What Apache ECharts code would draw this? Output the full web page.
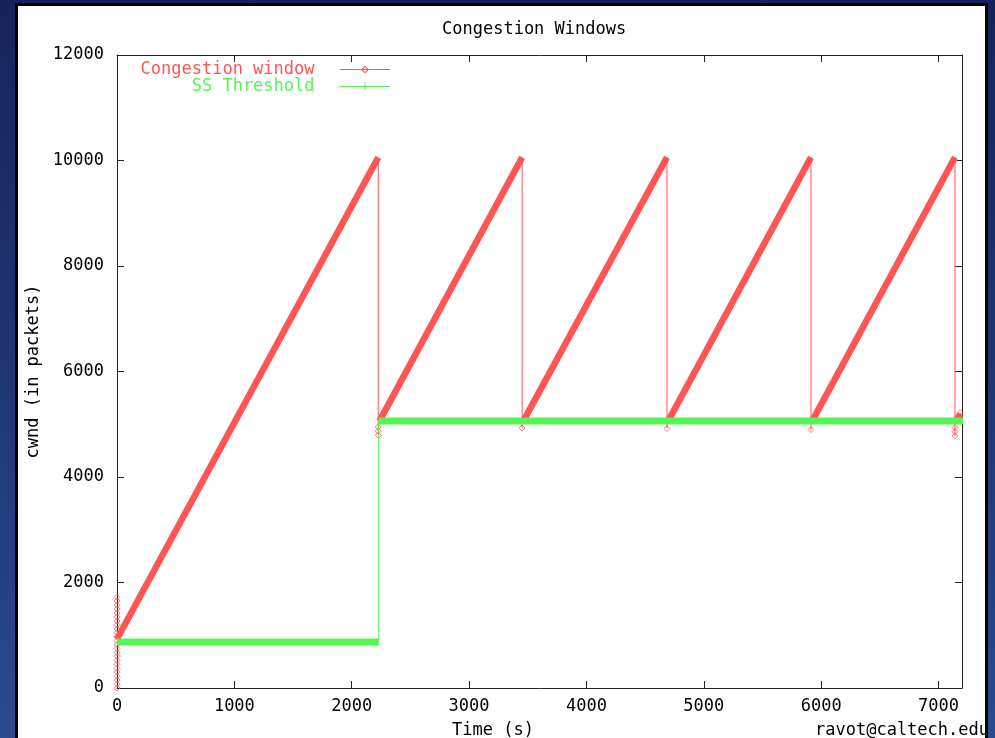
<!DOCTYPE html>
<html>
<head>
<meta charset="utf-8">
<script src="https://cdn.jsdelivr.net/npm/echarts@6/dist/echarts.min.js"></script>
<style>
  html, body { margin: 0; padding: 0; width: 995px; height: 738px; overflow: hidden; }
  body { background: linear-gradient(to bottom, #15235a 0%, #1f3470 45%, #2b4a90 100%); position: relative; }
  #box { position: absolute; left: 15px; top: 3px; width: 967px; height: 780px; border: 3px solid #000; background: #fff; overflow: hidden; }
  #chart { position: absolute; left: 0; top: 0; width: 967px; height: 732px; }
</style>
</head>
<body>
<div id="box"><div id="chart"></div></div>
<script>
// ---- data ----
const titleText = 'Congestion Windows';
const xName = 'Time (s)';
const yName = 'cwnd (in packets)';
const footer = 'ravot@caltech.edu';
const seriesNames = ['Congestion window', 'SS Threshold'];
const xMin = 0, xMax = 7200, xStep = 1000;
const yMin = 0, yMax = 12000, yStep = 2000;

// congestion window: linear growth phases (time s, cwnd packets)
const cwndRamps = [
  [[0, 930], [2226, 10060]],
  [[2236, 5060], [3452, 10060]],
  [[3462, 5060], [4686, 10060]],
  [[4696, 5060], [5913, 10060]],
  [[5923, 5060], [7140, 10060]],
  [[7150, 5060], [7185, 5200]]
];
// congestion window: loss events (sharp drops)
const cwndDrops = [
  [[2226, 10060], [2226, 4790]],
  [[3452, 10060], [3452, 4930]],
  [[4686, 10060], [4686, 4920]],
  [[5913, 10060], [5913, 4900]],
  [[7140, 10060], [7140, 4780]]
];
// congestion window: isolated samples
const cwndSamples = [
  [0, 0], [0, 70], [0, 150], [0, 220], [0, 300], [0, 370], [0, 450], [0, 520],
  [0, 600], [0, 670], [0, 750], [0, 820], [0, 900], [0, 970], [0, 1050], [0, 1120],
  [0, 1200], [0, 1270], [0, 1350], [0, 1420], [0, 1500], [0, 1570], [0, 1650], [0, 1720],
  [2226, 4790], [2226, 4870], [2226, 4950],
  [3452, 4930], [4686, 4920], [5913, 4900],
  [7140, 4780], [7140, 4860], [7140, 4940],
  [7183, 5160], [7185, 5220]
];
// slow start threshold: plateaus and step
const ssPlateaus = [
  [[0, 870], [2230, 870]],
  [[2230, 5060], [7210, 5060]]
];
const ssSteps = [
  [[2230, 870], [2230, 5060]]
];

// ---- styling ----
const RED = '#ff5555';
const GREEN = '#55f555';
const FONT = 'DejaVu Sans Mono';
const FS = 17;
const AXIS = '#222';

const chart = echarts.init(document.getElementById('chart'), null, { renderer: 'canvas' });

const series = [];
cwndRamps.forEach(seg => series.push({
  name: seriesNames[0], type: 'line', data: seg, showSymbol: false, clip: false, silent: true,
  lineStyle: { color: RED, width: 6.5 }, itemStyle: { color: RED }, z: 2
}));
cwndDrops.forEach(seg => series.push({
  name: seriesNames[0], type: 'line', data: seg, showSymbol: false, clip: false, silent: true,
  lineStyle: { color: RED, width: 1 }, itemStyle: { color: RED }, z: 2
}));
series.push({
  name: 'cwnd samples', type: 'scatter', data: cwndSamples, symbol: 'diamond', symbolSize: [6, 6],
  clip: false, silent: true,
  itemStyle: { color: 'rgba(255,255,255,0)', borderColor: RED, borderWidth: 1 }, z: 2
});
ssPlateaus.forEach(seg => series.push({
  name: seriesNames[1], type: 'line', data: seg, showSymbol: false, clip: false, silent: true,
  lineStyle: { color: GREEN, width: 7 }, itemStyle: { color: GREEN }, z: 3
}));
ssSteps.forEach(seg => series.push({
  name: seriesNames[1], type: 'line', data: seg, showSymbol: false, clip: false, silent: true,
  lineStyle: { color: GREEN, width: 1 }, itemStyle: { color: GREEN }, z: 3
}));

const iconRed = 'path://M0,3.5H50V4.5H0Z M25,0L29,4L25,8L21,4Z M25,1.5L22.5,4L25,6.5L27.5,4Z';
const iconGreen = 'path://M0,3.5H50V4.5H0Z M24.5,0H25.5V8H24.5Z';

function mkX(pos, labels) {
  return {
    type: 'value', position: pos, min: xMin, max: xMax, interval: xStep,
    axisLine: { show: true, onZero: false, lineStyle: { color: AXIS, width: 1 } },
    axisTick: { show: true, inside: true, length: 7, lineStyle: { color: AXIS } },
    axisLabel: { show: labels, margin: 10, color: '#000', fontFamily: FONT, fontSize: FS,
      formatter: v => String(v), showMaxLabel: false },
    splitLine: { show: false }
  };
}
function mkY(pos, labels) {
  return {
    type: 'value', position: pos, min: yMin, max: yMax, interval: yStep,
    axisLine: { show: true, onZero: false, lineStyle: { color: AXIS, width: 1 } },
    axisTick: { show: true, inside: true, length: 7, lineStyle: { color: AXIS } },
    axisLabel: { show: labels, margin: 13, color: '#000', fontFamily: FONT, fontSize: FS,
      formatter: v => String(v) },
    splitLine: { show: false }
  };
}

const yAxisLeft = mkY('left', true);
yAxisLeft.name = yName;
yAxisLeft.nameLocation = 'middle';
yAxisLeft.nameGap = 74;
yAxisLeft.nameRotate = 90;
yAxisLeft.nameTextStyle = { color: '#000', fontFamily: FONT, fontSize: FS };

chart.setOption({
  animation: false,
  backgroundColor: 'transparent',
  title: {
    text: titleText, left: 424, top: 15, padding: 0,
    textStyle: { color: '#000', fontFamily: FONT, fontSize: FS, fontWeight: 'normal' }
  },
  grid: { left: 99, top: 49, right: 23, bottom: 50, containLabel: false, outerBoundsMode: 'none' },
  xAxis: [mkX('bottom', true), mkX('top', false)],
  yAxis: [yAxisLeft, mkY('right', false)],
  legend: [
    {
      data: [{ name: seriesNames[0], icon: iconRed }], right: 595, top: 55, padding: 0,
      align: 'right', itemWidth: 50, itemHeight: 8, selectedMode: false,
      formatter: n => n + '  ',
      textStyle: { color: RED, fontFamily: FONT, fontSize: FS }
    },
    {
      data: [{ name: seriesNames[1], icon: iconGreen }], right: 595, top: 72, padding: 0,
      align: 'right', itemWidth: 50, itemHeight: 8, selectedMode: false,
      formatter: n => n + '  ',
      textStyle: { color: GREEN, fontFamily: FONT, fontSize: FS }
    }
  ],
  graphic: [
    { type: 'text', left: 434, top: 716, silent: true,
      style: { text: xName, fill: '#000', font: FS + 'px "DejaVu Sans Mono"' } },
    { type: 'text', left: 797, top: 716, silent: true,
      style: { text: footer, fill: '#000', font: FS + 'px "DejaVu Sans Mono"' } }
  ],
  series: series
});
</script>
</body>
</html>
